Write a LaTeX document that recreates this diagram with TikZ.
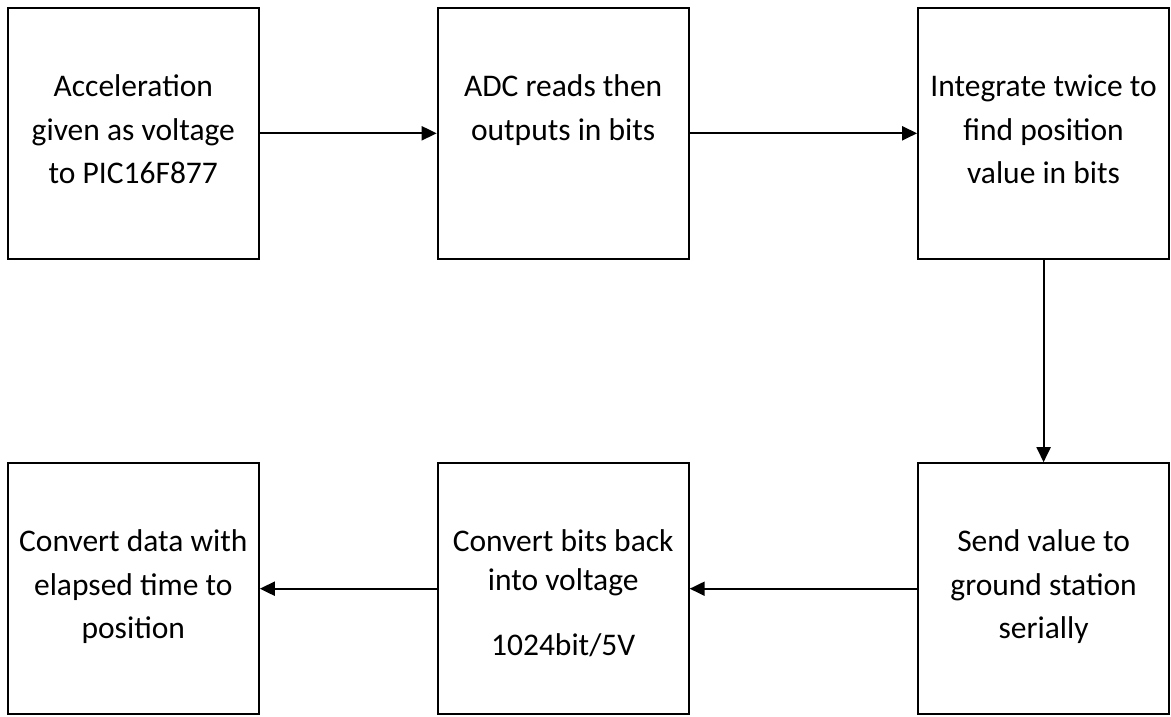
\documentclass[tikz,border=0pt]{standalone}
\usepackage{fontspec}
\setmainfont{Carlito}
\usetikzlibrary{arrows.meta}
\begin{document}
\begin{tikzpicture}[x=1pt,y=-1pt,
  box/.style={draw, line width=2pt, minimum width=251pt, minimum height=251pt, inner sep=0pt},
  txt/.style={anchor=north, inner sep=0pt, align=center, font=\fontsize{31.5}{43.5}\selectfont},
  arr/.style={line width=2pt, -{Triangle[length=15pt,width=14pt]}}]
\useasboundingbox (0,0) rectangle (1171,717);
\node[box] (b1) at (133.3,133.3) {};
\node[box] (b2) at (563.2,133.3) {};
\node[box] (b3) at (1043.6,133.3) {};
\node[box] (b4) at (133.3,588.7) {};
\node[box] (b5) at (563.2,588.7) {};
\node[box] (b6) at (1043.6,588.7) {};
\node[txt] (t1) at (133.3,69.7) {\rule{0pt}{27pt}Acceleration\\given as voltage\\to PIC16F877};
\node[txt] (t2) at (563.2,69.3) {\rule{0pt}{27pt}ADC reads then\\outputs in bits};
\node[txt] (t3) at (1043.6,69.3) {\rule{0pt}{27pt}Integrate twice to\\find position\\value in bits};
\node[txt] (t4) at (133.3,524.7) {\rule{0pt}{27pt}Convert data with\\elapsed time to\\position};
\node[txt] (t5) at (563.2,524.7) {\rule{0pt}{27pt}Convert bits back\\[-5pt]into voltage\\[21.5pt]1024bit/5V};
\node[txt] (t6) at (1043.6,524.7) {\rule{0pt}{27pt}Send value to\\ground station\\serially};
\draw[arr] (b1.east) -- (b2.west);
\draw[arr] (b2.east) -- (b3.west);
\draw[arr] (b3.south) -- (b6.north);
\draw[arr] (b6.west) -- (b5.east);
\draw[arr] (b5.west) -- (b4.east);
\end{tikzpicture}
\end{document}
